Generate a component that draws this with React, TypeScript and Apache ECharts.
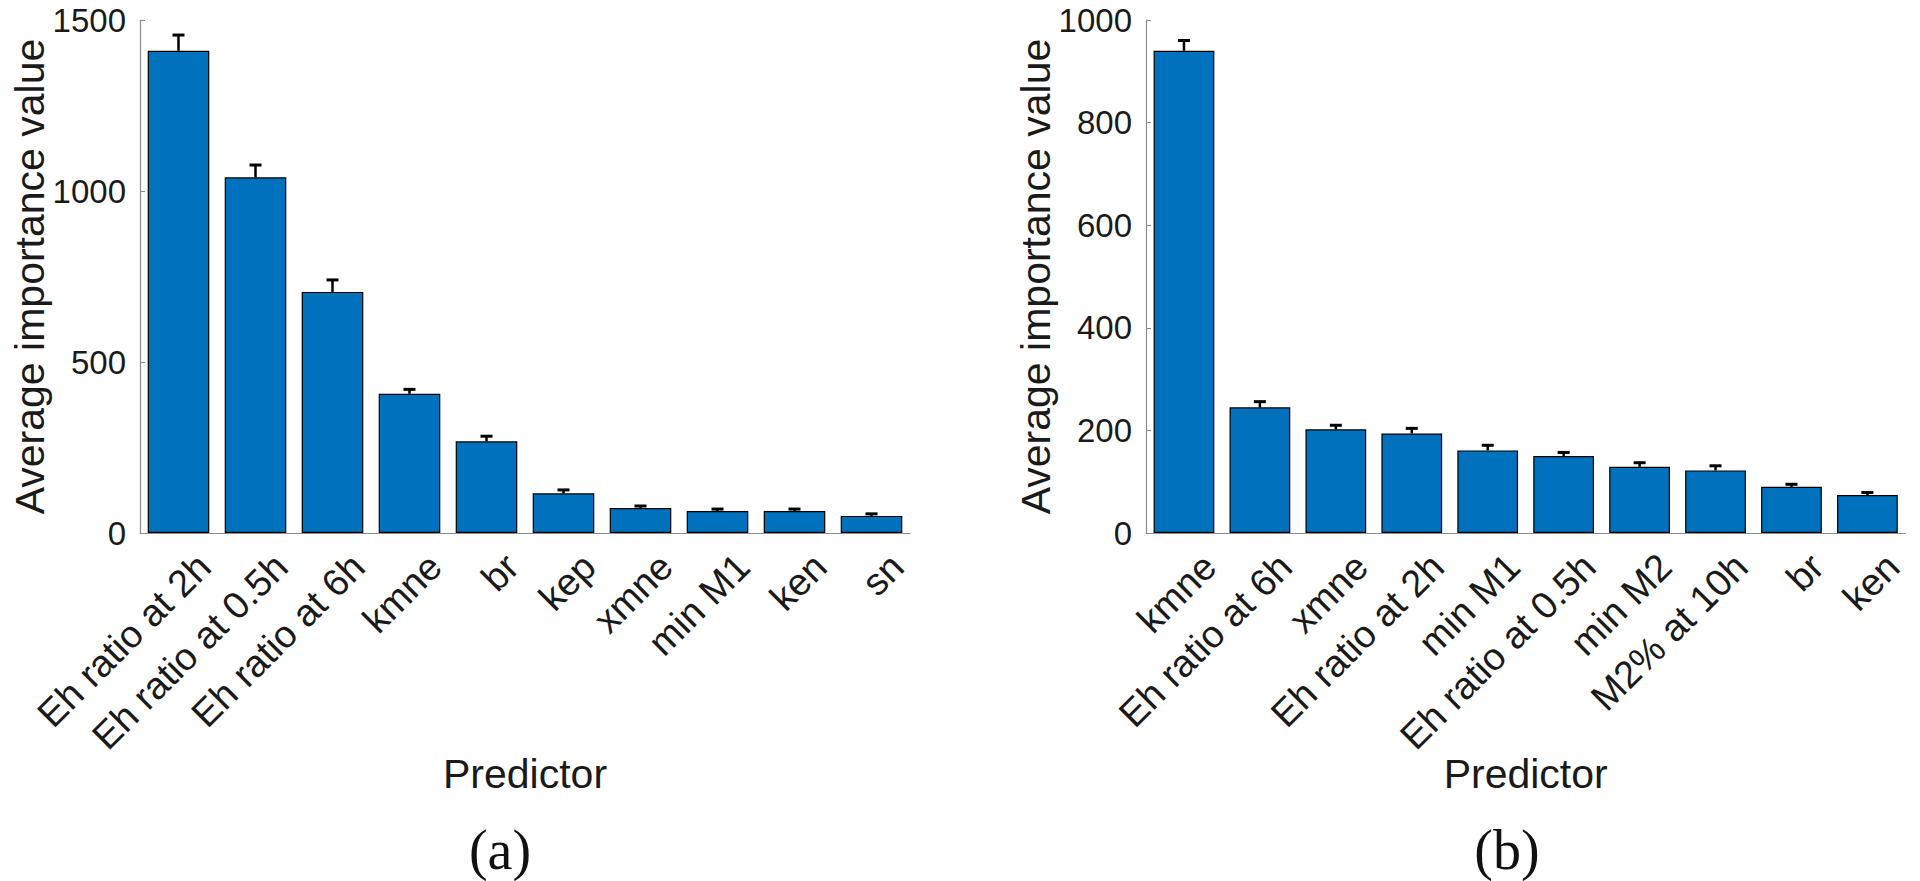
import React, { useEffect, useRef } from "react";
import * as echarts from "echarts";

const categoriesA = [
  "Eh ratio at 2h",
  "Eh ratio at 0.5h",
  "Eh ratio at 6h",
  "kmne",
  "br",
  "kep",
  "xmne",
  "min M1",
  "ken",
  "sn",
];
const valuesA = [1410, 1040, 705, 407, 268, 116, 73, 64, 64, 50];
const errorsA = [46, 36, 35, 13, 15, 10, 6, 6, 6, 6];
const yMaxA = 1500;
const yStepA = 500;

const categoriesB = [
  "kmne",
  "Eh ratio at 6h",
  "xmne",
  "Eh ratio at 2h",
  "min M1",
  "Eh ratio at 0.5h",
  "min M2",
  "M2% at 10h",
  "br",
  "ken",
];
const valuesB = [940, 245, 202, 194, 161, 150, 129, 122, 90, 74];
const errorsB = [20, 11, 8, 10, 10, 7, 8, 9, 5, 5];
const yMaxB = 1000;
const yStepB = 200;

const yAxisName = "Average importance value";
const xAxisName = "Predictor";
const panelLabels = ["(a)", "(b)"];

const BAR_COLOR = "#0072BD";
const SANS = "'Liberation Sans', Arial, Helvetica, sans-serif";
const SERIF = "'Liberation Serif', 'Times New Roman', serif";

function errorRender(params: any, api: any) {
  const x = api.value(0);
  const v = api.value(1);
  const e = api.value(2);
  const p0 = api.coord([x, v]);
  const p1 = api.coord([x, v + e]);
  return {
    type: "group",
    children: [
      {
        type: "line",
        shape: { x1: p0[0], y1: p0[1], x2: p1[0], y2: p1[1] },
        style: { stroke: "#000", lineWidth: 2.5 },
      },
      {
        type: "line",
        shape: { x1: p1[0] - 6, y1: p1[1], x2: p1[0] + 6, y2: p1[1] },
        style: { stroke: "#000", lineWidth: 3 },
      },
    ],
  };
}

function makeXAxis(gridIndex: number, cats: string[]) {
  return {
    type: "category",
    gridIndex,
    data: cats,
    boundaryGap: true,
    axisLine: { show: true, lineStyle: { color: "#8c8c8c", width: 1.2 } },
    axisTick: { show: false },
    axisLabel: {
      interval: 0,
      rotate: 45,
      fontSize: 38,
      fontFamily: SANS,
      color: "#1a1a1a",
      margin: 2,
      verticalAlign: "top",
      lineHeight: 72,
    },
    name: xAxisName,
    nameLocation: "middle",
    nameGap: 220,
    nameMoveOverlap: false,
    nameTextStyle: { fontSize: 41, fontFamily: SANS, color: "#1a1a1a" },
    splitLine: { show: false },
  };
}

function makeYAxis(gridIndex: number, max: number, step: number) {
  return {
    type: "value",
    gridIndex,
    min: 0,
    max,
    interval: step,
    axisLine: { show: true, lineStyle: { color: "#8c8c8c", width: 1.2 } },
    axisTick: { show: true, inside: true, length: 5, lineStyle: { color: "#8c8c8c" } },
    axisLabel: {
      fontSize: 33,
      lineHeight: 30,
      fontFamily: SANS,
      color: "#1a1a1a",
      margin: 14,
      formatter: (v: number) => String(v),
    },
    splitLine: { show: false },
    name: yAxisName,
    nameLocation: "middle",
    nameGap: 90,
    nameMoveOverlap: false,
    nameTextStyle: { fontSize: 41, fontFamily: SANS, color: "#1a1a1a" },
  };
}

export default function App() {
  const ref = useRef<HTMLDivElement>(null);

  useEffect(() => {
    if (!ref.current) return;
    const chart = echarts.init(ref.current, undefined, { renderer: "svg" });
    const option = {
      animation: false,
      backgroundColor: "#ffffff",
      grid: [
        { left: 140, top: 20, width: 770, height: 513 },
        { left: 1146, top: 20, width: 768, height: 513 },
      ],
      xAxis: [makeXAxis(0, categoriesA), makeXAxis(1, categoriesB)],
      yAxis: [makeYAxis(0, yMaxA, yStepA), makeYAxis(1, yMaxB, yStepB)],
      series: [
        {
          type: "bar",
          xAxisIndex: 0,
          yAxisIndex: 0,
          data: valuesA,
          barWidth: "80%",
          itemStyle: { color: BAR_COLOR, borderColor: "#000", borderWidth: 1.2 },
        },
        {
          type: "custom",
          xAxisIndex: 0,
          yAxisIndex: 0,
          z: 5,
          renderItem: errorRender,
          encode: { x: 0, y: 1 },
          data: valuesA.map((v, i) => [i, v, errorsA[i]]),
        },
        {
          type: "bar",
          xAxisIndex: 1,
          yAxisIndex: 1,
          data: valuesB,
          barWidth: "80%",
          itemStyle: { color: BAR_COLOR, borderColor: "#000", borderWidth: 1.2 },
        },
        {
          type: "custom",
          xAxisIndex: 1,
          yAxisIndex: 1,
          z: 5,
          renderItem: errorRender,
          encode: { x: 0, y: 1 },
          data: valuesB.map((v, i) => [i, v, errorsB[i]]),
        },
      ],
      graphic: [
        {
          type: "text",
          x: 500,
          y: 850,
          style: {
            text: panelLabels[0],
            fontSize: 56,
            fontFamily: SERIF,
            fill: "#111",
            align: "center",
            verticalAlign: "middle",
          },
        },
        {
          type: "text",
          x: 1507,
          y: 850,
          style: {
            text: panelLabels[1],
            fontSize: 56,
            fontFamily: SERIF,
            fill: "#111",
            align: "center",
            verticalAlign: "middle",
          },
        },
      ],
    };
    chart.setOption(option as any);
    return () => chart.dispose();
  }, []);

  return (
    <div
      ref={ref}
      style={{ position: "fixed", left: 0, top: 0, width: 1920, height: 881, background: "#fff" }}
    />
  );
}
